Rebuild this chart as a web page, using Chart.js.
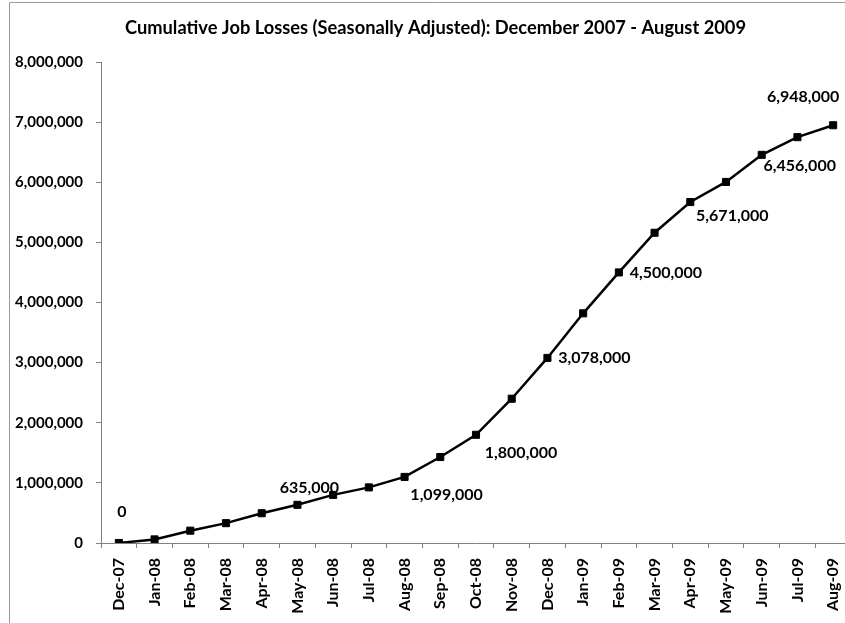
<!DOCTYPE html>
<html>
<head>
<meta charset="utf-8">
<script src="https://cdn.jsdelivr.net/npm/chart.js@4/dist/chart.umd.min.js"></script>
<style>
html,body{margin:0;padding:0;overflow:hidden;background:#fff;width:845px;height:623px}
#wrap{position:absolute;left:0;top:0;width:870px;height:623px}
</style>
</head>
<body>
<div id="wrap"><canvas id="c" width="870" height="623"></canvas></div>
<script>
// ---- data ----
const months = ['Dec-07','Jan-08','Feb-08','Mar-08','Apr-08','May-08','Jun-08','Jul-08','Aug-08','Sep-08','Oct-08',
  'Nov-08','Dec-08','Jan-09','Feb-09','Mar-09','Apr-09','May-09','Jun-09','Jul-09','Aug-09'];
const jobLosses = [0, 60000, 205000, 330000, 495000, 635000, 800000, 925000, 1099000, 1430000, 1800000,
  2400000, 3078000, 3820000, 4500000, 5160000, 5671000, 6005000, 6456000, 6750000, 6948000];
const labeledIdx = [0, 5, 8, 10, 12, 14, 16, 18, 20];
const yTickValues = [0, 1000000, 2000000, 3000000, 4000000, 5000000, 6000000, 7000000, 8000000];
const titleText = 'Cumulative Job Losses (Seasonally Adjusted): December 2007 - August 2009';

// ---- styling (label placement offsets relative to their point, px) ----
const labelOffsets = {0:[3,-31],5:[12,-17],8:[42,18],10:[45,18],12:[47,0],14:[47,0],16:[42,14],18:[38,11],20:[-30,-28]};
const FONT = 'Lato';
const fmt = v => v.toLocaleString('en-US');

const framePlugin = {
  id: 'frame',
  beforeDraw(chart) {
    const ctx = chart.ctx;
    ctx.save();
    ctx.fillStyle = '#fff';
    ctx.fillRect(0, 0, chart.width, chart.height);
    ctx.strokeStyle = '#9a9a9a';
    ctx.lineWidth = 1;
    ctx.beginPath();
    ctx.moveTo(9.5, chart.height); ctx.lineTo(9.5, 2.5); ctx.lineTo(chart.width, 2.5);
    ctx.stroke();
    // title
    ctx.fillStyle = '#000';
    ctx.font = 'bold 18.3px ' + FONT;
    ctx.textAlign = 'center';
    ctx.textBaseline = 'middle';
    ctx.fillText(titleText, 435.5, 28);
    ctx.restore();
  }
};

const valueLabels = {
  id: 'valueLabels',
  afterDatasetsDraw(chart) {
    const ctx = chart.ctx;
    const meta = chart.getDatasetMeta(0);
    ctx.save();
    ctx.font = 'bold 16px ' + FONT;
    ctx.fillStyle = '#000';
    ctx.textAlign = 'center';
    ctx.textBaseline = 'middle';
    labeledIdx.forEach(i => {
      const p = meta.data[i];
      const o = labelOffsets[i] || [0, -15];
      ctx.fillText(fmt(chart.data.datasets[0].data[i]), p.x + o[0], p.y + o[1]);
    });
    ctx.restore();
  }
};

new Chart(document.getElementById('c'), {
  type: 'line',
  data: {
    labels: months,
    datasets: [{
      data: jobLosses,
      borderColor: '#000',
      backgroundColor: '#000',
      borderWidth: 2.5,
      tension: 0,
      pointStyle: 'rect',
      pointRadius: 5,
      pointBorderWidth: 1,
      pointBackgroundColor: '#000',
      pointBorderColor: '#000',
      fill: false
    }]
  },
  options: {
    responsive: false,
    animation: false,
    devicePixelRatio: 1,
    layout: { padding: { left: 0, right: 19, top: 62, bottom: 0 } },
    plugins: {
      legend: { display: false },
      tooltip: { enabled: false },
      title: { display: false }
    },
    scales: {
      x: {
        type: 'category',
        offset: true,
        border: { display: true, color: '#808080', width: 1 },
        grid: { display: true, drawOnChartArea: false, drawTicks: true, tickLength: 5, offset: true, color: '#808080' },
        ticks: { color: '#000', font: { family: FONT, size: 16, weight: 'bold' }, maxRotation: 90, minRotation: 90, padding: 10, autoSkip: false },
        afterFit(s) { s.height = 80; }
      },
      y: {
        min: 0, max: 8000000,
        border: { display: true, color: '#808080', width: 1 },
        grid: { display: true, drawOnChartArea: false, drawTicks: true, tickLength: 5, color: '#808080' },
        afterBuildTicks(s) { s.ticks = yTickValues.map(v => ({ value: v })); },
        ticks: { color: '#000', font: { family: FONT, size: 15, weight: 'bold' }, padding: 13, callback: v => fmt(v) },
        afterFit(s) { s.width = 101; }
      }
    }
  },
  plugins: [framePlugin, valueLabels]
});
</script>
</body>
</html>
